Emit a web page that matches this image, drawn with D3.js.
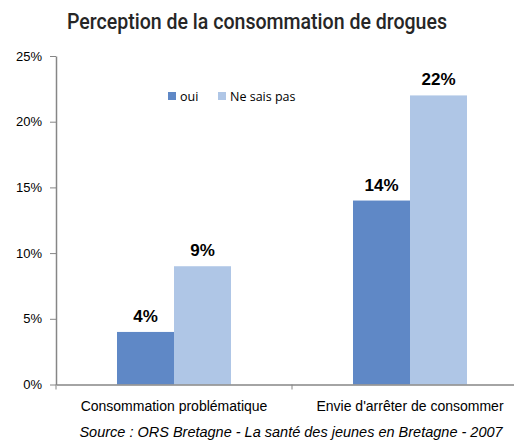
<!DOCTYPE html>
<html>
<head>
<meta charset="utf-8">
<script src="https://cdn.jsdelivr.net/npm/d3@7"></script>
<style>
  html, body { margin: 0; padding: 0; background: #fff; }
  svg { display: block; }
</style>
</head>
<body>
<svg id="chart" width="514" height="441"></svg>
<script>
// Data
const categories = ["Consommation problématique", "Envie d'arrêter de consommer"];
const seriesNames = ["oui", "Ne sais pas"];
const ouiValues = [4, 14];
const nspValues = [9, 22];
const yTicks = [0, 5, 10, 15, 20, 25];
const seriesColors = ["#5F88C6", "#AFC6E6"];

const title = "Perception de la consommation de drogues";
const source = "Source : ORS Bretagne - La santé des jeunes en Bretagne - 2007";

const svg = d3.select("#chart");
const plot = { left: 56, right: 528, top: 56, bottom: 384.5 };

const x = d3.scaleBand().domain(categories).range([plot.left, plot.right]).paddingInner(0).paddingOuter(0);
const xSeries = d3.scaleBand().domain(seriesNames).range([0, x.bandwidth()]).paddingInner(0).paddingOuter(1.07);
const y = d3.scaleLinear().domain([0, 25]).range([plot.bottom, plot.top]);

const axisColor = "#868686";

// Title (condensed, semi-bold)
svg.append("text")
  .attr("x", 257).attr("y", 29)
  .attr("text-anchor", "middle")
  .attr("font-family", "Roboto, 'DejaVu Sans', sans-serif")
  .attr("font-weight", 500)
  .attr("font-size", 22)
  .attr("textLength", 380)
  .attr("lengthAdjust", "spacingAndGlyphs")
  .attr("fill", "#262626")
  .text(title);

// Y axis
const yAxis = d3.axisLeft(y).tickValues(yTicks).tickFormat(d => d + "%").tickSizeInner(6).tickSizeOuter(0).tickPadding(8);
const gy = svg.append("g").attr("transform", `translate(${plot.left},0)`).call(yAxis);
gy.select(".domain").attr("stroke", axisColor).attr("stroke-width", 1.5);
gy.selectAll(".tick line").attr("stroke", axisColor).attr("stroke-width", 1);
gy.selectAll(".tick text")
  .attr("font-family", "'Liberation Sans', Arial, sans-serif")
  .attr("font-size", 13)
  .attr("fill", "#000");

// Bars
const data = categories.map((c, i) => ({ cat: c, values: [ouiValues[i], nspValues[i]] }));
const groups = svg.selectAll(".grp").data(data).join("g")
  .attr("class", "grp")
  .attr("transform", d => `translate(${x(d.cat)},0)`);

groups.selectAll("rect").data(d => d.values.map((v, j) => ({ v, s: seriesNames[j], j }))).join("rect")
  .attr("x", d => xSeries(d.s))
  .attr("width", xSeries.bandwidth())
  .attr("y", d => y(d.v))
  .attr("height", d => y(0) - y(d.v))
  .attr("fill", d => seriesColors[d.j]);

groups.selectAll("text.val").data(d => d.values.map((v, j) => ({ v, s: seriesNames[j] }))).join("text")
  .attr("class", "val")
  .attr("x", d => xSeries(d.s) + xSeries.bandwidth() / 2)
  .attr("y", d => y(d.v) - 10)
  .attr("text-anchor", "middle")
  .attr("font-family", "'Liberation Sans', Arial, sans-serif")
  .attr("font-weight", "bold")
  .attr("font-size", 17)
  .attr("fill", "#000")
  .text(d => d.v + "%");

// X axis
const xAxis = d3.axisBottom(x).tickSize(0).tickPadding(17);
const gx = svg.append("g").attr("transform", `translate(0,${plot.bottom})`).call(xAxis);
gx.select(".domain").attr("stroke", axisColor).attr("stroke-width", 1.5);
gx.selectAll(".tick text")
  .attr("font-family", "'Liberation Sans', Arial, sans-serif")
  .attr("font-size", 14)
  .attr("fill", "#000");
// Category boundary ticks
svg.append("g").selectAll("line").data([plot.left, x(categories[1])]).join("line")
  .attr("x1", d => d).attr("x2", d => d)
  .attr("y1", plot.bottom).attr("y2", plot.bottom + 5)
  .attr("stroke", axisColor).attr("stroke-width", 1);

// Legend
const legend = svg.append("g").attr("transform", "translate(168,92)");
const legendOffsets = [0, 50];
seriesNames.forEach((name, i) => {
  const g = legend.append("g").attr("transform", `translate(${legendOffsets[i]},0)`);
  g.append("rect").attr("width", 8).attr("height", 8).attr("fill", seriesColors[i]);
  g.append("text").attr("x", 12).attr("y", 8.5)
    .attr("font-family", "'Open Sans', 'Liberation Sans', sans-serif")
    .attr("font-size", 12.5)
    .attr("fill", "#000")
    .text(name);
});

// Source
svg.append("text")
  .attr("x", 291).attr("y", 437)
  .attr("text-anchor", "middle")
  .attr("font-family", "'Liberation Sans', Arial, sans-serif")
  .attr("font-style", "italic")
  .attr("font-size", 14.5)
  .attr("fill", "#000")
  .text(source);
</script>
</body>
</html>
